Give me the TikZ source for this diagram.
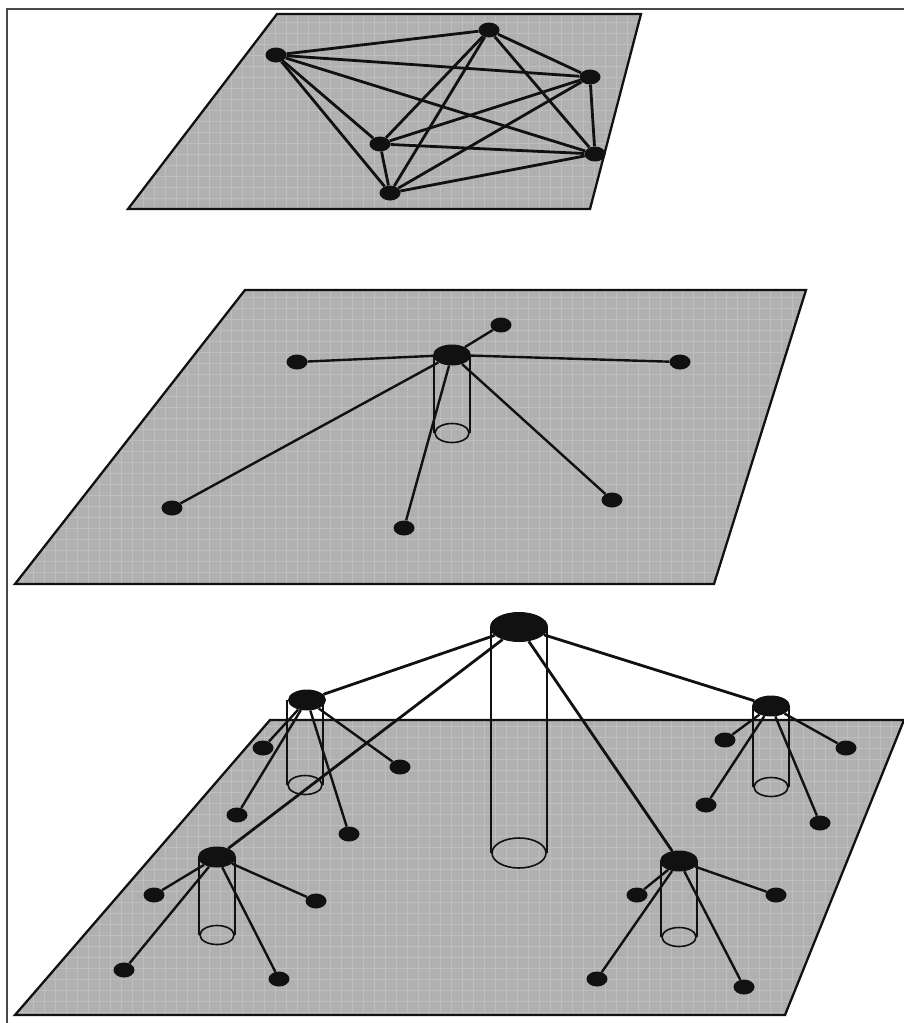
\documentclass[tikz,border=0pt]{standalone}
\usetikzlibrary{shapes.geometric}
\definecolor{ink}{HTML}{111111}
\definecolor{plane}{HTML}{B0B0B0}
\definecolor{rule}{HTML}{4A4A4A}
\pgfdeclarelayer{back}
\pgfdeclarelayer{wires}
\pgfsetlayers{back,wires,main}
\tikzset{
  sheet/.style={draw=ink,line width=2.3pt,line join=miter},
  weave/.style={draw=white,opacity=0.18,line width=0.8pt},
  dot/.style={ellipse,fill=ink,inner sep=0pt,minimum width=21pt,minimum height=15pt},
  hub/.style={dot,minimum width=38pt,minimum height=21pt},
  bighub/.style={dot,minimum width=58pt,minimum height=30pt},
  base/.style={ellipse,draw=ink,line width=1.6pt,inner sep=0pt,minimum width=34pt,minimum height=19pt},
  bigbase/.style={base,minimum width=54pt,minimum height=30pt},
  link/.style={draw=ink,line width=2.8pt},
  cyl/.style={draw=ink,line width=1.6pt},
  rim/.style={draw=rule,line width=2pt}
}
\newcommand{\sheet}[4]{%
  \fill[plane] #1 -- #2 -- #3 -- #4 -- cycle;
  \begin{scope}\clip #1 -- #2 -- #3 -- #4 -- cycle;
    \draw[weave,step=11pt] (0,0) grid (904,1023);
  \end{scope}
  \draw[sheet] #1 -- #2 -- #3 -- #4 -- cycle;}

\begin{document}
\begin{tikzpicture}[x=1pt,y=-1pt]
\useasboundingbox (0,0) rectangle (904,1023);
% ===================== frame =====================
\draw[rim] (7,1023) -- (7,9) -- (904,9);
% ===================== the three planes =====================
\begin{pgfonlayer}{back}
\sheet{(277,14)}{(641,14)}{(590,209)}{(128,209)}
\sheet{(245,290)}{(806,290)}{(714,584)}{(15,584)}
\sheet{(270,720)}{(904,720)}{(785,1015)}{(15,1015)}
\end{pgfonlayer}
% ===================== top plane: every node to every node =====================
\node[dot] (a1) at (276,55) {};
\node[dot] (a2) at (489,30) {};
\node[dot] (a3) at (590,77) {};
\node[dot] (a4) at (380,144) {};
\node[dot] (a5) at (595,154) {};
\node[dot] (a6) at (390,193) {};
\begin{pgfonlayer}{wires}
\foreach \i/\j in {a1/a2,a1/a3,a1/a4,a1/a5,a1/a6,a2/a3,a2/a4,a2/a5,a2/a6,a3/a4,a3/a5,a3/a6,a4/a5,a4/a6,a5/a6}
  \draw[link] (\i) -- (\j);
\end{pgfonlayer}
% ===================== middle plane: one hub =====================
\node[hub] (b0) at (452,355) {};
\node[base] (b0base) at (452,433) {};
\node[dot] (b1) at (501,325) {};
\node[dot] (b2) at (297,362) {};
\node[dot] (b3) at (680,362) {};
\node[dot] (b4) at (172,508) {};
\node[dot] (b5) at (404,528) {};
\node[dot] (b6) at (612,500) {};
\begin{pgfonlayer}{wires}
\draw[cyl] (b0base.west) -- (b0base.west |- b0.center);
\draw[cyl] (b0base.east) -- (b0base.east |- b0.center);
\foreach \n in {b1,b2,b3,b4,b5,b6}
  \draw[link,line width=2.4pt] (b0) -- (\n);
\end{pgfonlayer}
% ===================== bottom plane: hub of hubs =====================
\node[bighub] (c0) at (519,627) {};
\node[bigbase] (c0base) at (519,853) {};
\node[hub] (d1) at (307,700) {};
\node[base] (d1base) at (305,785) {};
\node[hub] (d2) at (771,706) {};
\node[base] (d2base) at (771,787) {};
\node[hub] (d3) at (217,857) {};
\node[base] (d3base) at (217,935) {};
\node[hub] (d4) at (679,861) {};
\node[base] (d4base) at (679,937) {};
% leaves
\node[dot] (d1a) at (263,748) {};
\node[dot] (d1b) at (400,767) {};
\node[dot] (d1c) at (237,815) {};
\node[dot] (d1d) at (349,834) {};
\node[dot] (d2a) at (725,740) {};
\node[dot] (d2b) at (846,748) {};
\node[dot] (d2c) at (706,805) {};
\node[dot] (d2d) at (820,823) {};
\node[dot] (d3a) at (154,895) {};
\node[dot] (d3b) at (316,901) {};
\node[dot] (d3c) at (124,970) {};
\node[dot] (d3d) at (279,979) {};
\node[dot] (d4a) at (637,895) {};
\node[dot] (d4b) at (776,895) {};
\node[dot] (d4c) at (597,979) {};
\node[dot] (d4d) at (744,987) {};
\begin{pgfonlayer}{wires}
\foreach \h in {c0,d1,d2,d3,d4}{
  \draw[cyl] (\h base.west) -- (\h base.west |- \h.center);
  \draw[cyl] (\h base.east) -- (\h base.east |- \h.center);}
\foreach \n in {d1,d2,d3,d4}
  \draw[link] (c0) -- (\n);
\foreach \h in {d1,d2,d3,d4}
  \foreach \l in {a,b,c,d}
    \draw[link,line width=2.4pt] (\h) -- (\h\l);
\end{pgfonlayer}
\end{tikzpicture}
\end{document}
